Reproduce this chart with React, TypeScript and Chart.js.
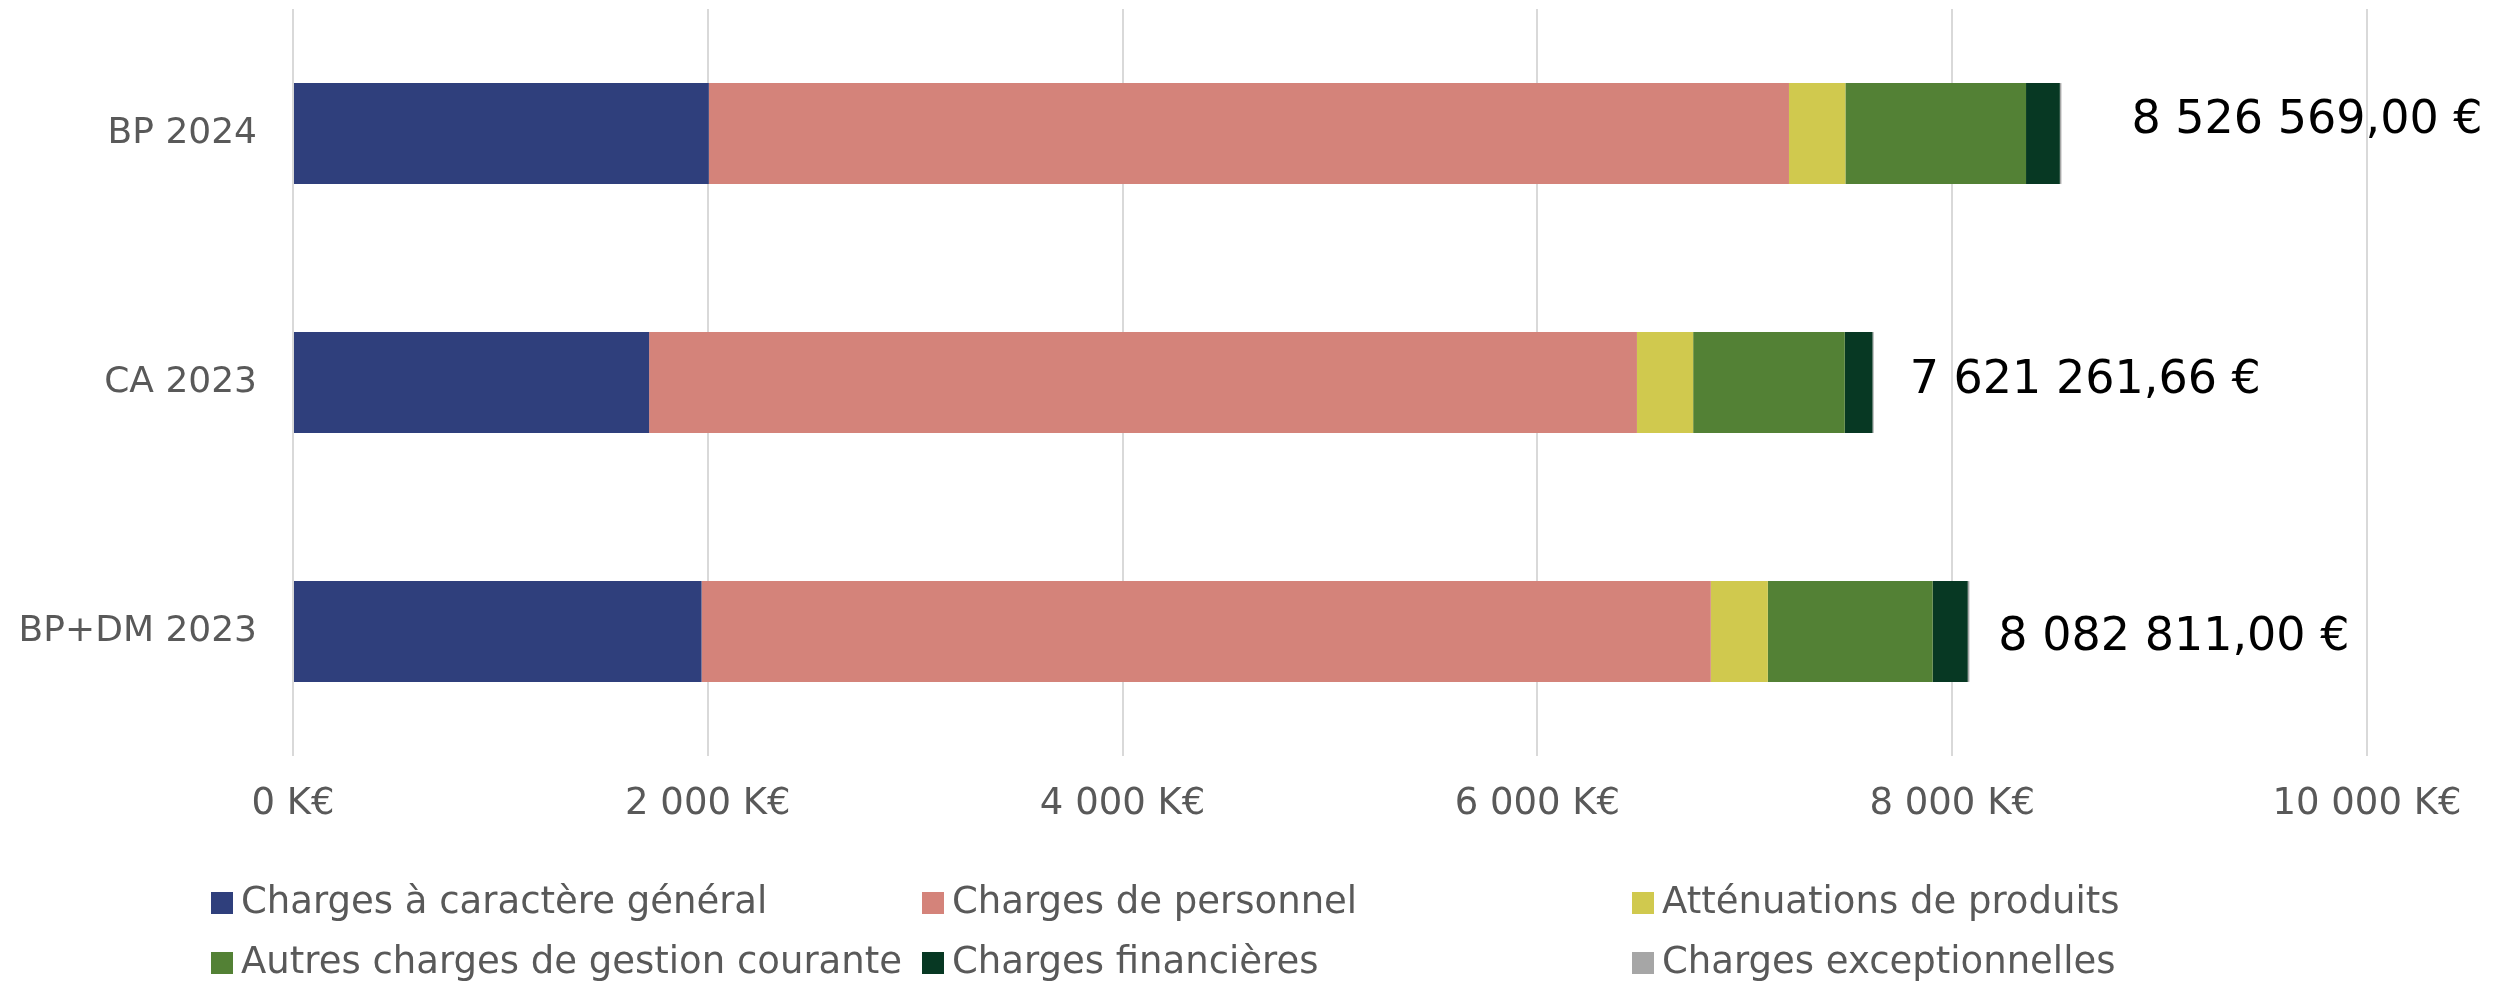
import React, { useEffect, useRef } from "react";
import { Chart, registerables } from "chart.js";

Chart.register(...registerables);

const categories = ["BP 2024", "CA 2023", "BP+DM 2023"];
const seriesNames = [
  "Charges à caractère général",
  "Charges de personnel",
  "Atténuations de produits",
  "Autres charges de gestion courante",
  "Charges financières",
  "Charges exceptionnelles",
];
// values in K€
const chargesGenerales = [2005, 1717, 1970];
const chargesPersonnel = [5208, 4763, 4866];
const attenuations = [272, 271, 275];
const autresCharges = [871, 731, 795];
const chargesFinancieres = [163, 134, 169];
const chargesExceptionnelles = [7.57, 5.26, 7.81];
const totalLabels = ["8 526 569,00 €", "7 621 261,66 €", "8 082 811,00 €"];
const xTicks = [0, 2000, 4000, 6000, 8000, 10000];

const colors = ["#2F3F7C", "#D4837A", "#D0C94E", "#538135", "#073823", "#A6A6A6"];

const FONT = "'DejaVu Sans', sans-serif";
const labelDx = [70, 36, 29];
const labelDy = [-12, -1, 7];
const legendCols = [211, 922, 1632];
const legendRows = [903, 963];

function fmt(v: number) {
  return String(v).replace(/\B(?=(\d{3})+(?!\d))/g, " ") + " K€";
}

const overlayPlugin = {
  id: "overlay",
  afterDraw(chart: any) {
    const ctx = chart.ctx;
    const xScale = chart.scales.x;
    const yScale = chart.scales.y;
    ctx.save();
    // totals
    ctx.font = `46px ${FONT}`;
    ctx.fillStyle = "#000000";
    ctx.textAlign = "left";
    ctx.textBaseline = "middle";
    categories.forEach((_, i) => {
      let sum = 0;
      chart.data.datasets.forEach((ds: any) => (sum += ds.data[i]));
      const x = xScale.getPixelForValue(sum) + labelDx[i];
      const y = yScale.getPixelForValue(i) + labelDy[i];
      ctx.fillText(totalLabels[i], x, y);
    });
    // legend
    ctx.font = `37px ${FONT}`;
    chart.data.datasets.forEach((ds: any, i: number) => {
      const x = legendCols[i % 3];
      const y = legendRows[Math.floor(i / 3)];
      ctx.fillStyle = ds.backgroundColor;
      ctx.fillRect(x, y - 11, 22, 22);
      ctx.fillStyle = "#595959";
      ctx.fillText(ds.label, x + 30, y);
    });
    ctx.restore();
  },
};

export default function App() {
  const ref = useRef<HTMLCanvasElement>(null);
  useEffect(() => {
    if (!ref.current) return;
    const seriesData = [
      chargesGenerales,
      chargesPersonnel,
      attenuations,
      autresCharges,
      chargesFinancieres,
      chargesExceptionnelles,
    ];
    const chart = new Chart(ref.current, {
      type: "bar",
      data: {
        labels: categories,
        datasets: seriesData.map((d, i) => ({
          label: seriesNames[i],
          data: d,
          backgroundColor: colors[i],
          borderWidth: 0,
          barPercentage: 0.405,
          categoryPercentage: 1,
        })),
      },
      options: {
        indexAxis: "y",
        animation: false,
        responsive: false,
        devicePixelRatio: 1,
        layout: { padding: { top: 9, right: 134, bottom: 0, left: 0 } },
        plugins: { legend: { display: false }, tooltip: { enabled: false } },
        scales: {
          x: {
            stacked: true,
            min: 0,
            max: 10000,
            afterBuildTicks: (s: any) => {
              s.ticks = xTicks.map((v) => ({ value: v }));
            },
            afterFit: (s: any) => {
              s.height = 225;
            },
            grid: { color: "#D9D9D9", lineWidth: 2, drawTicks: false },
            border: { display: false },
            ticks: {
              padding: 26,
              color: "#595959",
              font: { family: FONT, size: 37 },
              callback: (v: any) => fmt(Number(v)),
            },
          },
          y: {
            stacked: true,
            afterFit: (s: any) => {
              s.width = 293;
              s.paddingTop = 0;
              s.paddingBottom = 0;
            },
            grid: { display: false, drawTicks: false },
            border: { display: false },
            ticks: {
              padding: 36,
              color: "#595959",
              font: { family: FONT, size: 36 },
            },
          },
        },
      },
      plugins: [overlayPlugin],
    });
    return () => chart.destroy();
  }, []);
  return (
    <div style={{ position: "fixed", left: 0, top: 0, width: 2501, height: 981, background: "#fff" }}>
      <canvas ref={ref} width={2501} height={981} style={{ width: 2501, height: 981, display: "block" }} />
    </div>
  );
}
